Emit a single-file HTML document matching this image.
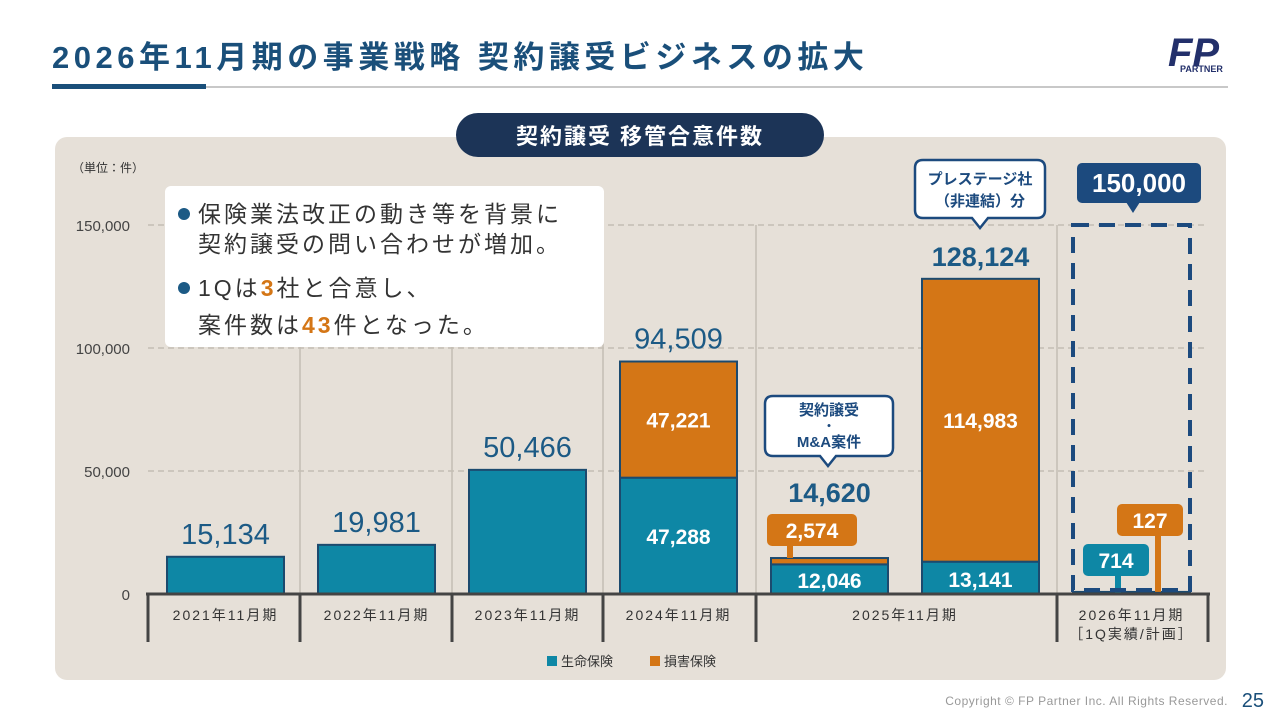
<!DOCTYPE html>
<html><head><meta charset="utf-8"><style>
body{margin:0;width:1280px;height:720px;background:#fff;overflow:hidden;font-family:"Liberation Sans","Noto Sans CJK JP",sans-serif;}
svg text{font-family:"Liberation Sans","Noto Sans CJK JP",sans-serif;}
</style></head><body>
<svg id="c" width="1280" height="720">
<text x="52" y="68" font-size="31" font-weight="700" fill="#1a4f7a" letter-spacing="4.5">2026年11月期の事業戦略  契約譲受ビジネスの拡大</text>
<rect x="52" y="86" width="1176" height="2" fill="#c8c8c8"/>
<rect x="52" y="84" width="154" height="5" fill="#1a4f7a"/>
<g><text x="1168" y="66" font-size="40" font-weight="700" font-style="italic" fill="#23306b">FP</text><text x="1180" y="72" font-size="9" font-weight="700" fill="#23306b">PARTNER</text></g>
<rect x="55" y="137" width="1171" height="543" rx="12" fill="#e6e0d8"/>
<rect x="456" y="113" width="368" height="44" rx="22" fill="#1c3457"/>
<text x="640" y="144" font-size="22" font-weight="700" fill="#fff" text-anchor="middle" letter-spacing="2">契約譲受  移管合意件数</text>
<text x="72" y="172" font-size="12" fill="#333">（単位：件）</text>
<g id="plot"></g>
<text x="1228" y="705" font-size="12" fill="#999" text-anchor="end" letter-spacing="0.5">Copyright © FP Partner Inc. All Rights Reserved.</text>
<text x="1264" y="707" font-size="20" fill="#1a4f7a" text-anchor="end">25</text>
</svg>
<script>
const categories=["2021年11月期","2022年11月期","2023年11月期","2024年11月期","2025年11月期","2025年11月期","2026年11月期"];
const lifeValues=[15134,19981,50466,47288,12046,13141,714];
const nonlifeValues=[0,0,0,47221,2574,114983,127];
const yTicks=[0,50000,100000,150000];
const planValue=150000;
const NS="http://www.w3.org/2000/svg";
const g=document.getElementById('plot');
const y0=594,yTop=225,yMax=150000;
const y=v=>y0-(v/yMax)*(y0-yTop);
const xc=i=>225.5+151*i;
const BW=117;
function el(t,a,txt){const e=document.createElementNS(NS,t);for(const k in a)e.setAttribute(k,a[k]);if(txt!==undefined)e.textContent=txt;g.appendChild(e);return e;}
yTicks.forEach(v=>{
 if(v>0){const l=el('line',{x1:148,x2:1208,y1:y(v),y2:y(v),stroke:'#bdb6ad','stroke-dasharray':'6 4','stroke-width':1.2});
 
 }
 const t=el('text',{x:130,y:y(v)+6,'font-size':15,fill:'#444','text-anchor':'end'},v.toLocaleString('en-US'));
 
 
});
[300,452,603,756,1057].forEach(x=>{const l=el('line',{x1:x,x2:x,y1:225,y2:y0,stroke:'#c4bdb4','stroke-width':1.5});
 
 });
for(let i=0;i<categories.length;i++){
 const x=xc(i)-BW/2,L=lifeValues[i],N=nonlifeValues[i];
 const b=el('rect',{x:x,y:y(L),width:BW,height:y0-y(L),fill:'#0e87a5',stroke:'#1c4a6e','stroke-width':2});
 
 
 if(N>0){const o=el('rect',{x:x,y:y(L+N),width:BW,height:y(L)-y(L+N),fill:'#d47616',stroke:'#1c4a6e','stroke-width':2});
 
 }
}
const ax=el('line',{x1:146,x2:1210,y1:y0,y2:y0,stroke:'#444','stroke-width':3});


[148,300,452,603,756,1057,1208].forEach(x=>{const l=el('line',{x1:x,x2:x,y1:y0,y2:642,stroke:'#444','stroke-width':3});
 
 });
[0,1,2,3].forEach(i=>{const t=el('text',{x:xc(i),y:620,'font-size':14,fill:'#333','text-anchor':'middle','letter-spacing':2},categories[i]);
 
 });
let t=el('text',{x:(xc(4)+xc(5))/2,y:620,'font-size':14,fill:'#333','text-anchor':'middle','letter-spacing':2},categories[4]);


t=el('text',{x:xc(6),y:620,'font-size':14,fill:'#333','text-anchor':'middle','letter-spacing':2},categories[6]);


t=el('text',{x:xc(6),y:639,'font-size':14,fill:'#333','text-anchor':'middle','letter-spacing':2},'［1Q実績/計画］');


for(let i=0;i<categories.length-1;i++){
 const tot=lifeValues[i]+nonlifeValues[i];
 const bold=i>=4;
 const ty=i===4?y(tot)-56:y(tot)-13;
 const tt=el('text',{x:xc(i),y:ty,'font-size':bold?27:29,'font-weight':bold?700:400,fill:'#1c5a85','text-anchor':'middle'},tot.toLocaleString('en-US'));
 
 
}
function inLabel(i,v,yc){const e=el('text',{x:xc(i),y:yc,'font-size':21,'font-weight':700,fill:'#fff','text-anchor':'middle'},v.toLocaleString('en-US'));
 
 }
inLabel(3,lifeValues[3],(y(lifeValues[3])+y0)/2+8);
inLabel(3,nonlifeValues[3],(y(lifeValues[3])+y(lifeValues[3]+nonlifeValues[3]))/2+8);
inLabel(4,lifeValues[4],(y(lifeValues[4])+y0)/2+9);
inLabel(5,lifeValues[5],(y(lifeValues[5])+y0)/2+9);
inLabel(5,nonlifeValues[5],(y(lifeValues[5])+y(lifeValues[5]+nonlifeValues[5]))/2+8);
function tag(cx,cy,w,color,txt,lineX,lineY2){
 el('rect',{x:lineX-3,y:cy+14,width:6,height:lineY2-cy-14,fill:color});
 el('rect',{x:cx-w/2,y:cy-16,width:w,height:32,rx:5,fill:color});
 const e=el('text',{x:cx,y:cy+8,'font-size':21,'font-weight':700,fill:'#fff','text-anchor':'middle'},txt);
 
 
}
tag(812,530,90,'#d47616',nonlifeValues[4].toLocaleString('en-US'),790,y(lifeValues[4]+nonlifeValues[4]));
tag(1150,520,66,'#d47616',String(nonlifeValues[6]),1158,y(lifeValues[6]+nonlifeValues[6]));
tag(1116,560,66,'#0e87a5',String(lifeValues[6]),1118,y(lifeValues[6]));
const pb=el('rect',{x:xc(6)-BW/2,y:y(planValue),width:BW,height:y0-y(planValue)-4,fill:'none',stroke:'#1c4a7e','stroke-width':4,'stroke-dasharray':'16 10'});


el('rect',{x:1077,y:163,width:124,height:40,rx:5,fill:'#1c4a7e'});
el('path',{d:'M1126 202 L1133 213 L1140 202 Z',fill:'#1c4a7e'});
t=el('text',{x:1139,y:192,'font-size':26,'font-weight':700,fill:'#fff','text-anchor':'middle'},planValue.toLocaleString('en-US'));


function bubble(x,yy,w,h,px,lines,name){
 const p=el('path',{d:`M${x+8} ${yy} H${x+w-8} Q${x+w} ${yy} ${x+w} ${yy+8} V${yy+h-8} Q${x+w} ${yy+h} ${x+w-8} ${yy+h} H${px+8} L${px} ${yy+h+10} L${px-8} ${yy+h} H${x+8} Q${x} ${yy+h} ${x} ${yy+h-8} V${yy+8} Q${x} ${yy} ${x+8} ${yy} Z`,fill:'#fff',stroke:'#1c4a7e','stroke-width':2.5});
 
 
 lines.forEach(l=>{const e=el('text',{x:x+w/2,y:yy+l[1],'font-size':l[2],'font-weight':700,fill:'#1c4a7e','text-anchor':'middle'},l[0]);
 
 });
}
bubble(915,160,130,58,980,[['プレステージ社',24,15],['（非連結）分',46,15]],'prestige-bubble');
bubble(765,396,128,60,828,[['契約譲受',19,15],['・',34,12],['M&A案件',51,15]],'ma-bubble');
const nb=el('rect',{x:165,y:186,width:439,height:161,rx:6,fill:'#fff'});


function nt(x,yy,s,fill){const e=el('text',{x:x,y:yy,'font-size':23,fill:fill,'letter-spacing':3},s);
 
 return e;}
el('circle',{cx:184,cy:214,r:6,fill:'#1c5a85'});
el('circle',{cx:184,cy:288,r:6,fill:'#1c5a85'});
nt(198,222,'保険業法改正の動き等を背景に','#333');
nt(198,252,'契約譲受の問い合わせが増加。','#333');
const a=nt(198,296,'','#333');a.innerHTML='1Qは<tspan fill="#d47616" font-weight="700">3</tspan>社と合意し、';
const b=nt(198,333,'','#333');b.innerHTML='案件数は<tspan fill="#d47616" font-weight="700">43</tspan>件となった。';
el('rect',{x:547,y:656,width:10,height:10,fill:'#0e87a5'});
t=el('text',{x:561,y:666,'font-size':13,fill:'#333'},'生命保険');


el('rect',{x:650,y:656,width:10,height:10,fill:'#d47616'});
t=el('text',{x:664,y:666,'font-size':13,fill:'#333'},'損害保険');


</script>
</body></html>
